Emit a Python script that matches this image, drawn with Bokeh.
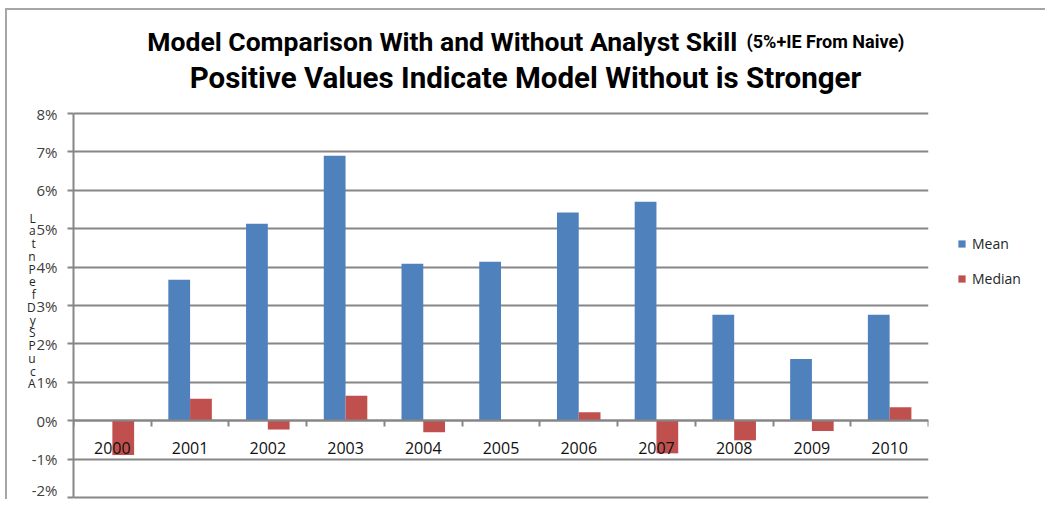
import math
from bokeh.plotting import figure
from bokeh.models import (Range1d, FixedTicker, Legend, LegendItem,
                          ColumnDataSource, PrintfTickFormatter)
from bokeh.transform import dodge
from bokeh.core.properties import value
from bokeh.embed import file_html
from bokeh.resources import INLINE

# ---- data ----
years = ["2000", "2001", "2002", "2003", "2004", "2005",
         "2006", "2007", "2008", "2009", "2010"]
mean_vals = [math.nan, 3.67, 5.13, 6.90, 4.09, 4.14, 5.42, 5.70, 2.76, 1.61, 2.76]
median_vals = [-0.89, 0.57, -0.23, 0.65, -0.30, 0.0, 0.22, -0.85, -0.51, -0.27, 0.35]
y_ticks = [-2, -1, 0, 1, 2, 3, 4, 5, 6, 7, 8]
series_names = ["Mean", "Median"]
title_main = "Model Comparison  With and Without  Analyst Skill"
title_small = "(5%+IE From Naive)"
title_line2 = "Positive Values Indicate Model Without is Stronger"
y_label_chars = ["L", "a", "t", "n", "P", "e", "f", "D", "y", "S", "P", "u", "c", "A"]

BLUE = "#4F81BD"
RED = "#C0504D"
GRID = "#868686"
FONT = "Open Sans"
TFONT = "Roboto"

n = len(years)
src = ColumnDataSource(dict(
    x=list(range(n)),
    year=years,
    mean=mean_vals,
    median=median_vals,
    zero=[0] * n,
))

# layout: frame spans the full height; 38.4 px per percentage point
PX = 38.4
FRAME_W, FRAME_H = 855, 499
y_lo = y_ticks[0] - 2 / PX
y_hi = y_ticks[-1] + 113 / PX
XU = FRAME_W / n  # px per category

def sx(px):  # image x -> data x
    return -0.5 + (px - 73) / XU

def sy(py):  # image y -> data y
    return y_ticks[-1] - (py - 113) / PX

p = figure(frame_width=FRAME_W, frame_height=FRAME_H,
           x_range=Range1d(-0.5, n - 0.5), y_range=Range1d(y_lo, y_hi),
           output_backend="svg", toolbar_location=None,
           min_border_left=73, min_border_right=117, min_border_top=0,
           min_border_bottom=0)
p.outline_line_color = None
p.background_fill_color = None
p.border_fill_color = None
p.styles = {
    "background-color": "white",
    "box-shadow": ("inset 0 8px 0 0 white, inset 5px 0 0 0 white, inset -3px 0 0 0 white, "
                   "inset 0 10px 0 0 #a6a6a6, inset 7px 0 0 0 #a6a6a6, inset -5px 0 0 0 #a6a6a6"),
}

# grid
p.xgrid.grid_line_color = None
p.ygrid.ticker = FixedTicker(ticks=y_ticks)
p.ygrid.grid_line_color = GRID
p.ygrid.grid_line_width = 2

# y axis
ya = p.yaxis[0]
ya.bounds = (y_ticks[0], y_ticks[-1])
ya.ticker = FixedTicker(ticks=y_ticks)
ya.formatter = PrintfTickFormatter(format="%d%%")
ya.axis_line_color = GRID
ya.axis_line_width = 2
ya.major_tick_line_color = GRID
ya.major_tick_line_width = 2
ya.major_tick_in = 0
ya.major_tick_out = 6
ya.minor_tick_line_color = None
ya.major_label_text_font = FONT
ya.major_label_text_font_size = "15px"
ya.major_label_text_color = "#404040"
ya.major_label_standoff = 10
# stacked (garbled) axis title; leading blank lines push it down toward the data area
ya.axis_label = "\n".join([" "] * 8 + y_label_chars)
ya.axis_label_orientation = "horizontal"
ya.axis_label_standoff = -7
ya.axis_label_text_font = FONT
ya.axis_label_text_font_style = "normal"
ya.axis_label_text_font_size = "12px"
ya.axis_label_text_line_height = 0.75
ya.axis_label_text_color = "#262626"

# x axis crossing at zero, tick marks at category boundaries
xa = p.xaxis[0]
xa.fixed_location = 0
xa.ticker = FixedTicker(ticks=[], minor_ticks=[i + 0.5 for i in range(-1, n)])
xa.axis_line_color = GRID
xa.axis_line_width = 2
xa.major_tick_line_color = None
xa.major_tick_out = 0
xa.major_label_standoff = 0
xa.minor_tick_line_color = GRID
xa.minor_tick_line_width = 2
xa.minor_tick_in = 0
xa.minor_tick_out = 6
xa.major_label_text_font_size = "0px"

# bars
r1 = p.vbar(x=dodge("x", -0.14, range=p.x_range), top="mean", bottom=0, width=0.28,
            source=src, fill_color=BLUE, line_color=None)
r2 = p.vbar(x=dodge("x", 0.14, range=p.x_range), top="median", bottom=0, width=0.28,
            source=src, fill_color=RED, line_color=None)

# category labels under the zero line
p.text(x="x", y="zero", text="year", source=src, y_offset=27,
       text_align="center", text_baseline="middle",
       text_font=value(FONT), text_font_size="16px", text_color="#111111")

# titles
p.text(x=[sx(750)], y=[sy(41)], text=[title_main], text_align="right",
       text_baseline="alphabetic", text_font=value(TFONT), text_font_style="bold",
       text_font_size="26.5px", text_color="#000000")
p.text(x=[sx(746)], y=[sy(41)], text=[title_small], text_align="left",
       text_baseline="alphabetic", text_font=value(TFONT), text_font_style="bold",
       text_font_size="18px", text_color="#000000")
p.text(x=[sx(525)], y=[sy(77)], text=[title_line2], text_align="center",
       text_baseline="alphabetic", text_font=value(TFONT), text_font_style="bold",
       text_font_size="29.5px", text_color="#000000")

# legend
legend = Legend(items=[LegendItem(label=series_names[0], renderers=[r1]),
                       LegendItem(label=series_names[1], renderers=[r2])],
                location=(29, 211), padding=0, margin=0, border_line_color=None,
                background_fill_color=None,
                glyph_width=9, glyph_height=9, label_height=16, spacing=16,
                label_standoff=6, label_text_font=FONT, label_text_font_size="14px",
                label_text_color="#262626")
p.add_layout(legend, "right")

open("out.html", "w").write(file_html(p, INLINE))
